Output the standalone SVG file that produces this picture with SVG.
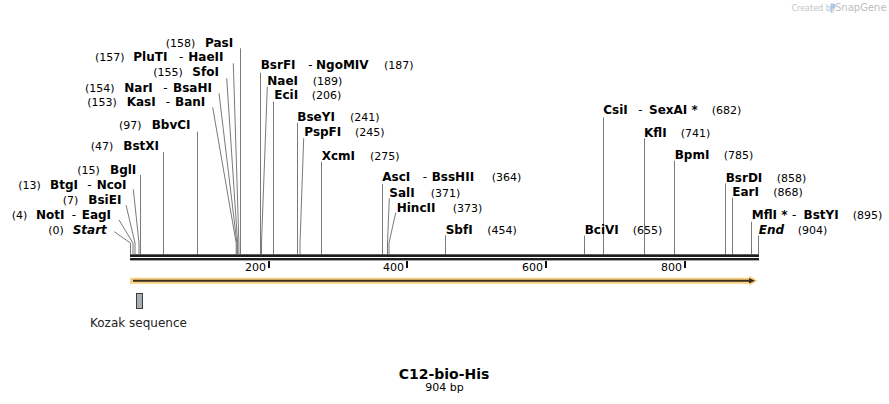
<svg xmlns="http://www.w3.org/2000/svg" width="889" height="404" viewBox="0 0 889 404">
<style>
text{font-family:"DejaVu Sans",Verdana,sans-serif;fill:#000}
.n{font-size:12px;font-weight:bold}
.i{font-size:12px;font-weight:bold;font-style:italic}
.p{font-size:11px}
.d{font-size:12px}
.t{font-size:11px}
.c path{fill:none;stroke:#7a7a7a;stroke-width:1}
</style>
<rect width="889" height="404" fill="#fff"/>
<g id="watermark">
<text x="791.5" y="10.5" style="font-size:8px;fill:#c4c4c4">Created by</text>
<path d="M830.5,3.5 h2.5 a2,2 0 0 1 0,5 h-1 v4 h-1.5 z" fill="#a9c9ea"/>
<text x="835" y="11" style="font-size:10px;fill:#bdbdbd">SnapGene</text>
</g>
<g class="c" id="connectors">
<path d="M114.3,231.7 L130.5,243 V254"/>
<path d="M119,220 L133,243 V254"/>
<path d="M126,205 L135,243 V254"/>
<path d="M133.3,189.3 L139,243 V254"/>
<path d="M140.5,175 V254"/>
<path d="M163.5,152 V254"/>
<path d="M197.5,131.7 V254"/>
<path d="M212.7,107.3 L236.2,243 V254"/>
<path d="M219,93.3 L236.9,243 V254"/>
<path d="M226.7,78.3 L237.6,243 V254"/>
<path d="M233.3,63.3 L238.9,243 V254"/>
<path d="M240.5,48.3 V254"/>
<path d="M260.5,72.7 V254"/>
<path d="M267.3,86.7 L261.5,243 V254"/>
<path d="M273.5,101.7 V254"/>
<path d="M297.5,122.7 V254"/>
<path d="M303.7,138.3 L300,243 V254"/>
<path d="M321.5,161.7 V254"/>
<path d="M382.5,184 V254"/>
<path d="M389.3,198.3 L387.5,243 V254"/>
<path d="M395.7,212.7 L389,243 V254"/>
<path d="M445.5,235.3 V254"/>
<path d="M584.5,235.7 V254"/>
<path d="M603.5,117.3 V254"/>
<path d="M644.5,138.3 V254"/>
<path d="M674.5,160.7 V254"/>
<path d="M725.5,183.3 V254"/>
<path d="M732.5,197.7 V254"/>
<path d="M751.5,221.7 V254"/>
<path d="M758.5,235.7 V254"/>
</g>
<g id="backbone">
<rect x="130" y="254.3" width="629" height="2.7" fill="#1e1e1e"/>
<rect x="130" y="258" width="629" height="2.4" fill="#1e1e1e"/>
<rect x="268" y="261" width="2" height="7" fill="#111"/>
<rect x="406" y="261" width="2" height="7" fill="#111"/>
<rect x="545" y="261" width="2" height="7" fill="#111"/>
<rect x="684" y="261" width="2" height="7" fill="#111"/>
<text class="t" x="266" y="270.7" text-anchor="end">200</text>
<text class="t" x="404" y="270.7" text-anchor="end">400</text>
<text class="t" x="543" y="270.7" text-anchor="end">600</text>
<text class="t" x="682" y="270.7" text-anchor="end">800</text>
</g>
<g id="feature-orf">
<path d="M130,277.7 H750 L749,275.5 L757.5,280.7 L749,286 L750,283.7 H130 Z" fill="#fbcf80"/>
<path d="M133,280.7 H751" stroke="#3a2e1e" stroke-width="2"/>
<path d="M749,278 L755,280.7 L749,283.4 Z" fill="#3a2e1e"/>
</g>
<g id="kozak">
<rect x="136.5" y="293.5" width="6" height="15" fill="#a9aeb5" stroke="#3d3d3d"/>
<text x="90" y="327" style="font-size:12px;fill:#222">Kozak sequence</text>
</g>
<g id="title">
<text x="444" y="378.5" text-anchor="middle" style="font-size:14px;font-weight:bold">C12-bio-His</text>
<text x="444.5" y="390.5" text-anchor="middle" style="font-size:11px">904 bp</text>
</g>
<g id="PasI"><text class="p" x="165.7" y="47">(158)</text><text class="n" x="205" y="47">PasI</text></g>
<g id="PluTI"><text class="p" x="95" y="61.2">(157)</text><text class="n" x="133.3" y="61.2">PluTI</text><text class="d" x="179" y="61.2">-</text><text class="n" x="188.3" y="61.2">HaeII</text></g>
<g id="SfoI"><text class="p" x="153.3" y="76">(155)</text><text class="n" x="192.3" y="76">SfoI</text></g>
<g id="NarI"><text class="p" x="85" y="91.7">(154)</text><text class="n" x="124.3" y="91.7">NarI</text><text class="d" x="163.3" y="91.7">-</text><text class="n" x="173" y="91.7">BsaHI</text></g>
<g id="KasI"><text class="p" x="87.3" y="106">(153)</text><text class="n" x="126.7" y="106">KasI</text><text class="d" x="165.7" y="106">-</text><text class="n" x="175" y="106">BanI</text></g>
<g id="BbvCI"><text class="p" x="119" y="129.3">(97)</text><text class="n" x="151.7" y="129.3">BbvCI</text></g>
<g id="BstXI"><text class="p" x="90.7" y="150.3">(47)</text><text class="n" x="123.3" y="150.3">BstXI</text></g>
<g id="BglI"><text class="p" x="77.3" y="174.3">(15)</text><text class="n" x="110" y="174.3">BglI</text></g>
<g id="BtgI"><text class="p" x="18.3" y="188.7">(13)</text><text class="n" x="50" y="188.7">BtgI</text><text class="d" x="87.3" y="188.7">-</text><text class="n" x="96.7" y="188.7">NcoI</text></g>
<g id="BsiEI"><text class="p" x="62.7" y="204.3">(7)</text><text class="n" x="88.3" y="204.3">BsiEI</text></g>
<g id="NotI"><text class="p" x="11.7" y="219.3">(4)</text><text class="n" x="36" y="219.3">NotI</text><text class="d" x="71.7" y="219.3">-</text><text class="n" x="81.7" y="219.3">EagI</text></g>
<g id="Start"><text class="p" x="48.3" y="234.3">(0)</text><text class="i" x="72.7" y="234.3">Start</text></g>
<g id="BsrFI"><text class="n" x="260.7" y="69.3">BsrFI</text><text class="d" x="308.3" y="69.3">-</text><text class="n" x="316" y="69.3">NgoMIV</text><text class="p" x="384" y="69.3">(187)</text></g>
<g id="NaeI"><text class="n" x="267.3" y="85">NaeI</text><text class="p" x="312.7" y="85">(189)</text></g>
<g id="EciI"><text class="n" x="274.3" y="99.3">EciI</text><text class="p" x="311.7" y="99.3">(206)</text></g>
<g id="BseYI"><text class="n" x="297.3" y="121">BseYI</text><text class="p" x="350" y="121">(241)</text></g>
<g id="PspFI"><text class="n" x="304.3" y="136">PspFI</text><text class="p" x="355" y="136">(245)</text></g>
<g id="XcmI"><text class="n" x="321.7" y="160.3">XcmI</text><text class="p" x="370" y="160.3">(275)</text></g>
<g id="AscI"><text class="n" x="382.3" y="181">AscI</text><text class="d" x="422.7" y="181">-</text><text class="n" x="431.7" y="181">BssHII</text><text class="p" x="491.7" y="181">(364)</text></g>
<g id="SalI"><text class="n" x="389.3" y="196.6">SalI</text><text class="p" x="430.7" y="196.6">(371)</text></g>
<g id="HincII"><text class="n" x="396.7" y="211.6">HincII</text><text class="p" x="452.7" y="211.6">(373)</text></g>
<g id="SbfI"><text class="n" x="445.7" y="234.3">SbfI</text><text class="p" x="487.3" y="234.3">(454)</text></g>
<g id="BciVI"><text class="n" x="584.7" y="233.6">BciVI</text><text class="p" x="632.7" y="233.6">(655)</text></g>
<g id="CsiI"><text class="n" x="603.3" y="113.6">CsiI</text><text class="d" x="638.3" y="113.6">-</text><text class="n" x="649" y="113.6">SexAI *</text><text class="p" x="711.7" y="113.6">(682)</text></g>
<g id="KflI"><text class="n" x="644" y="137">KflI</text><text class="p" x="680.7" y="137">(741)</text></g>
<g id="BpmI"><text class="n" x="674.7" y="159.3">BpmI</text><text class="p" x="723.7" y="159.3">(785)</text></g>
<g id="BsrDI"><text class="n" x="725.7" y="181.6">BsrDI</text><text class="p" x="776.7" y="181.6">(858)</text></g>
<g id="EarI"><text class="n" x="732.3" y="196">EarI</text><text class="p" x="773.3" y="196">(868)</text></g>
<g id="MflI"><text class="n" x="751.7" y="219.3">MflI *</text><text class="d" x="792" y="219.3">-</text><text class="n" x="803.5" y="219.3">BstYI</text><text class="p" x="852.7" y="219.3">(895)</text></g>
<g id="End"><text class="i" x="758.7" y="233.6">End</text><text class="p" x="797.7" y="233.6">(904)</text></g>
</svg>
